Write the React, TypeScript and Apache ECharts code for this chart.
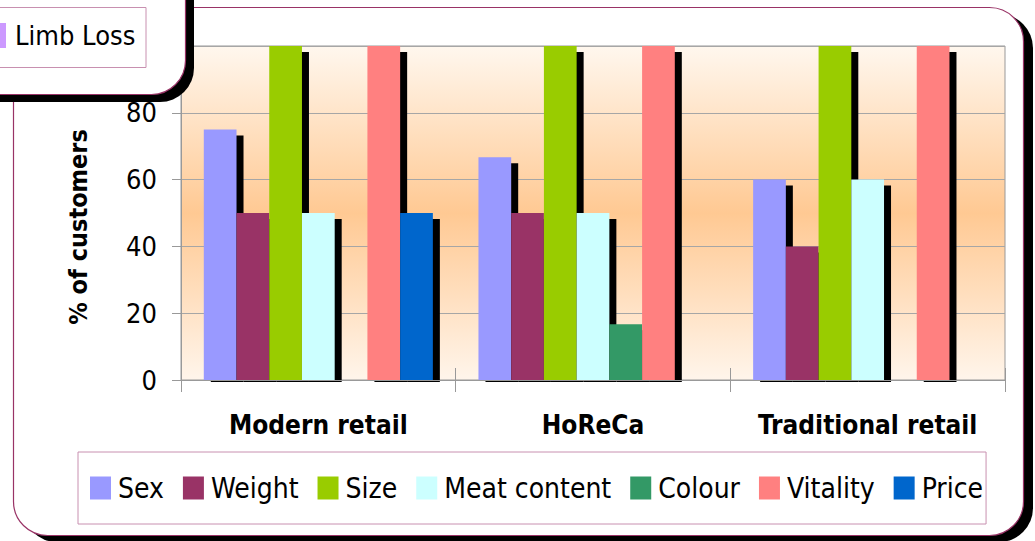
import React, { useEffect, useRef } from "react";
import * as echarts from "echarts";

const categories = ["Modern retail", "HoReCa", "Traditional retail"];
const seriesNames = ["Sex", "Weight", "Size", "Meat content", "Colour", "Vitality", "Price"];
const seriesColors = ["#9999ff", "#993366", "#99cc00", "#ccffff", "#339966", "#ff8080", "#0066cc"];
const sexValues = [75, 66.7, 60];
const weightValues = [50, 50, 40];
const sizeValues = [100, 100, 100];
const meatValues = [50, 50, 60];
const colourValues = [0, 16.7, 0];
const vitalityValues = [100, 100, 100];
const priceValues = [50, 0, 0];
const allValues = [sexValues, weightValues, sizeValues, meatValues, colourValues, vitalityValues, priceValues];
const yTicks = [0, 20, 40, 60, 80, 100];
const otherLegendName = "Limb Loss";
const otherLegendColor = "#cc99ff";

const FONT = "'DejaVu Sans Condensed', 'DejaVu Sans', sans-serif";
const GAP = 0.166;
const SHADOW_DX = 7;
const SHADOW_DY = 6;

function makeRender(si: number) {
  return (params: any, api: any) => {
    const ci = api.value(0);
    const v = api.value(1);
    if (!v) return null;
    const base = api.coord([ci, 0]);
    const top = api.coord([ci, v]);
    const cw = api.size([1, 0])[0];
    const gw = cw * (1 - GAP);
    const bw = gw / seriesNames.length;
    const x = base[0] - gw / 2 + si * bw;
    return {
      type: "group",
      children: [
        {
          type: "rect",
          shape: { x: x + SHADOW_DX, y: top[1] + SHADOW_DY, width: bw, height: base[1] + 2 - top[1] - SHADOW_DY },
          style: { fill: "#000" },
        },
        {
          type: "rect",
          shape: { x, y: top[1], width: bw, height: base[1] - top[1] },
          style: { fill: seriesColors[si] },
        },
      ],
    };
  };
}

export default function App() {
  const ref = useRef<HTMLDivElement>(null);
  useEffect(() => {
    document.body.style.margin = "0";
    const chart = echarts.init(ref.current!, null, { renderer: "svg" });
    const option: any = {
      animation: false,
      color: seriesColors,
      grid: {
        left: 181,
        right: 30,
        top: 46,
        bottom: 161,
        show: true,
        borderColor: "#999",
        borderWidth: 1,
        backgroundColor: new echarts.graphic.LinearGradient(0, 0, 0, 1, [
          { offset: 0, color: "#fff7ee" },
          { offset: 0.5, color: "#ffc993" },
          { offset: 1, color: "#fff5eb" },
        ]),
      },
      legend: {
        data: seriesNames,
        left: 78,
        top: 452,
        orient: "horizontal",
        padding: [22, 3, 22, 12],
        borderColor: "#c890b0",
        borderWidth: 1,
        itemGap: 19,
        itemWidth: 21,
        itemHeight: 23,
        icon: "rect",
        textStyle: { fontFamily: FONT, fontSize: 28, color: "#000", padding: [0, 0, 0, 2] },
      },
      xAxis: [
        {
          type: "category",
          data: categories,
          z: 3,
          axisLine: { show: true, lineStyle: { color: "#999", width: 1 } },
          axisTick: { show: true, length: 12, lineStyle: { color: "#999" } },
          axisLabel: { interval: 0, fontFamily: FONT, fontSize: 26, fontWeight: "bold", color: "#000", margin: 32 },
        },
        {
          type: "category",
          data: categories,
          position: "bottom",
          z: 3,
          axisLine: { show: false },
          axisTick: { show: true, inside: true, length: 12, lineStyle: { color: "#999" } },
          axisLabel: { show: false },
        },
      ],
      yAxis: {
        type: "value",
        min: yTicks[0],
        max: yTicks[yTicks.length - 1],
        interval: 20,
        name: "% of customers",
        nameLocation: "middle",
        nameGap: 90,
        nameTextStyle: { fontFamily: FONT, fontSize: 25, fontWeight: "bold", color: "#000", padding: [0, 28, 0, 0] },
        axisLine: { show: true, lineStyle: { color: "#999", width: 1 } },
        axisTick: { show: true, length: 9, lineStyle: { color: "#999" } },
        splitLine: { show: true, lineStyle: { color: "#a6a6a6", width: 1 } },
        axisLabel: { fontFamily: FONT, fontSize: 27, color: "#000", margin: 24, showMaxLabel: false },
      },
      series: seriesNames.map((name, si) => ({
        type: "custom",
        name,
        xAxisIndex: 0,
        itemStyle: { color: seriesColors[si] },
        encode: { x: 0, y: 1 },
        data: allValues[si].map((v, ci) => [ci, v]),
        renderItem: makeRender(si),
      })),
      graphic: [
        {
          type: "rect",
          z: -10,
          silent: true,
          shape: { x: 23, y: 14, width: 1010, height: 528, r: 34 },
          style: { fill: "#000" },
        },
        {
          type: "rect",
          z: -9,
          silent: true,
          shape: { x: 13.5, y: 7.5, width: 1010, height: 528, r: 34 },
          style: { fill: "#fff", stroke: "#993366", lineWidth: 1.2 },
        },
        {
          type: "rect",
          z: 100,
          silent: true,
          shape: { x: -52, y: -52, width: 246, height: 154, r: 34 },
          style: { fill: "#000" },
        },
        {
          type: "rect",
          z: 101,
          silent: true,
          shape: { x: -60, y: -60, width: 245.5, height: 154.5, r: 34 },
          style: { fill: "#fff", stroke: "#993366", lineWidth: 1.2 },
        },
        {
          type: "rect",
          z: 102,
          silent: true,
          shape: { x: -10, y: 7.5, width: 156, height: 60 },
          style: { fill: "none", stroke: "#c890b0", lineWidth: 1 },
        },
        {
          type: "rect",
          z: 102,
          silent: true,
          shape: { x: -2, y: 23, width: 8, height: 25 },
          style: { fill: otherLegendColor },
        },
        {
          type: "text",
          z: 103,
          silent: true,
          x: 15,
          y: 35,
          style: {
            text: otherLegendName,
            fontFamily: FONT,
            fontSize: 27,
            fill: "#000",
            textVerticalAlign: "middle",
            verticalAlign: "middle",
          },
        },
      ],
    };
    chart.setOption(option);
    return () => chart.dispose();
  }, []);
  return <div ref={ref} style={{ width: 1035, height: 541 }} />;
}
